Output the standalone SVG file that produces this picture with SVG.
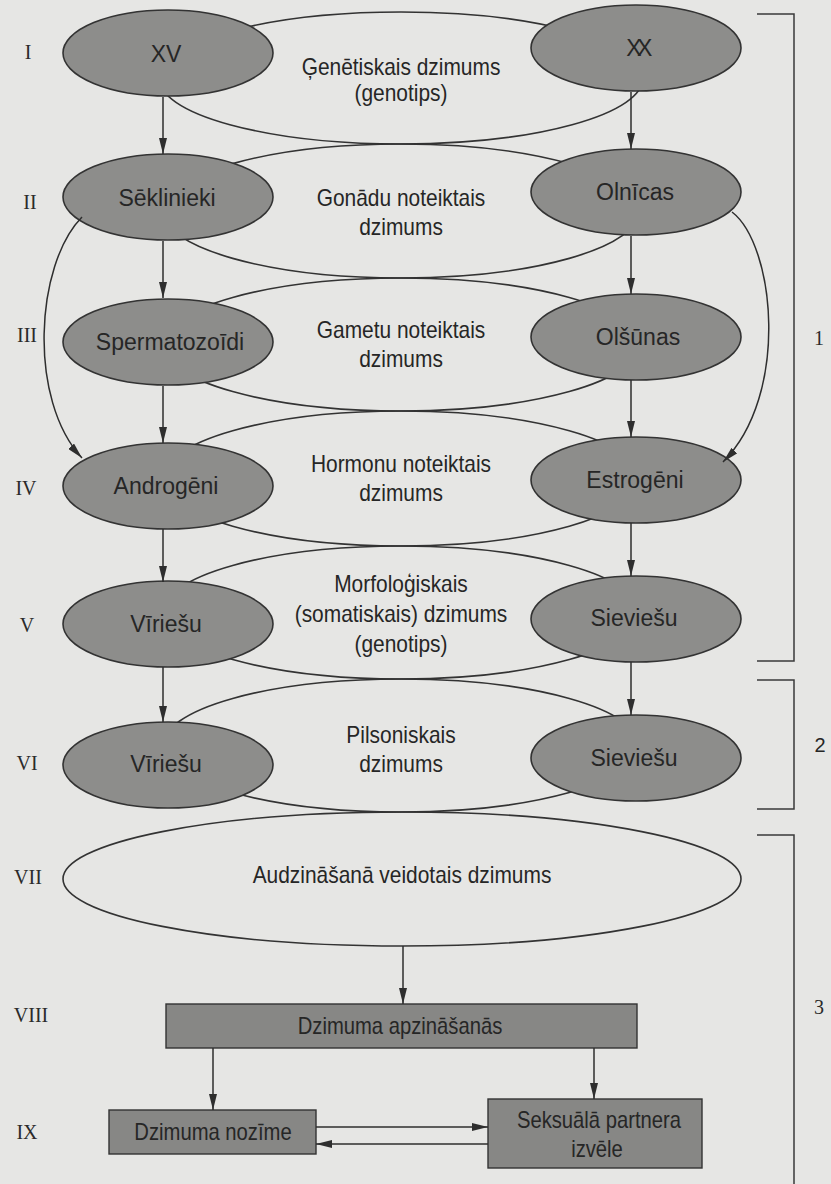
<svg xmlns="http://www.w3.org/2000/svg" width="831" height="1184" viewBox="0 0 831 1184">
<defs>
<marker id="ah" viewBox="0 0 16 8" refX="16" refY="4" markerWidth="16" markerHeight="8" markerUnits="userSpaceOnUse" orient="auto">
<path d="M0,0 L16,4 L0,8 z" fill="#2e2e2e"/>
</marker>
<style>
.bg{fill:#e6e6e4}
.lens{fill:none;stroke:#333;stroke-width:1.6}
.node{fill:#8d8d8b;stroke:#333;stroke-width:1.6}
.box{fill:#878785;stroke:#333;stroke-width:1.4}
.t{font-family:"Liberation Sans",Arial,sans-serif;fill:#262626;text-anchor:middle}
.n{font-size:24.5px}
.m{font-size:23px}
.b{font-size:23px}
.r{font-family:"Liberation Serif","Times New Roman",serif;font-size:20px;fill:#2a2a2a;text-anchor:middle}
.c{fill:none;stroke:#2e2e2e;stroke-width:1.5}
.br{fill:none;stroke:#3a3a3a;stroke-width:1.5}
</style>
</defs>
<rect class="bg" x="0" y="0" width="831" height="1184"/>

<!-- middle lenses (levels) -->
<g id="lens-I"><ellipse class="lens" cx="401" cy="78" rx="242" ry="66"/>
<text class="t m" transform="translate(401,75) scale(0.91,1)">Ģenētiskais dzimums</text>
<text class="t m" transform="translate(401,101) scale(0.91,1)">(genotips)</text></g>
<g id="lens-II"><ellipse class="lens" cx="401" cy="211" rx="238" ry="67"/>
<text class="t m" transform="translate(401,206) scale(0.91,1)">Gonādu noteiktais</text>
<text class="t m" transform="translate(401,235) scale(0.91,1)">dzimums</text></g>
<g id="lens-III"><ellipse class="lens" cx="401" cy="344.5" rx="238" ry="66.5"/>
<text class="t m" transform="translate(401,338) scale(0.91,1)">Gametu noteiktais</text>
<text class="t m" transform="translate(401,367) scale(0.91,1)">dzimums</text></g>
<g id="lens-IV"><ellipse class="lens" cx="401" cy="478.5" rx="238" ry="67.5"/>
<text class="t m" transform="translate(401,472) scale(0.91,1)">Hormonu noteiktais</text>
<text class="t m" transform="translate(401,501) scale(0.91,1)">dzimums</text></g>
<g id="lens-V"><ellipse class="lens" cx="401" cy="612.5" rx="238" ry="66.5"/>
<text class="t m" transform="translate(401,592) scale(0.91,1)">Morfoloģiskais</text>
<text class="t m" transform="translate(401,622) scale(0.91,1)">(somatiskais) dzimums</text>
<text class="t m" transform="translate(401,652) scale(0.91,1)">(genotips)</text></g>
<g id="lens-VI"><ellipse class="lens" cx="401" cy="745.5" rx="238" ry="66.5"/>
<text class="t m" transform="translate(401,743) scale(0.91,1)">Pilsoniskais</text>
<text class="t m" transform="translate(401,772) scale(0.91,1)">dzimums</text></g>
<g id="lens-VII"><ellipse class="lens" cx="402" cy="879" rx="339" ry="67"/>
<text class="t m" transform="translate(402,883) scale(0.91,1)">Audzināšanā veidotais dzimums</text></g>

<!-- left column -->
<g id="n-xv"><ellipse class="node" cx="168" cy="53" rx="105" ry="43"/><text class="t n" transform="translate(166,62) scale(0.94,1)">XV</text></g>
<g id="n-seklinieki"><ellipse class="node" cx="168" cy="197" rx="105" ry="43"/><text class="t n" transform="translate(167,206) scale(0.94,1)">Sēklinieki</text></g>
<g id="n-spermatozoidi"><ellipse class="node" cx="168" cy="342" rx="105" ry="43"/><text class="t n" transform="translate(170,350) scale(0.94,1)">Spermatozoīdi</text></g>
<g id="n-androgeni"><ellipse class="node" cx="168" cy="486" rx="105" ry="43"/><text class="t n" transform="translate(166,494) scale(0.94,1)">Androgēni</text></g>
<g id="n-viriesu-v"><ellipse class="node" cx="168" cy="624" rx="105" ry="43"/><text class="t n" transform="translate(166,632) scale(0.94,1)">Vīriešu</text></g>
<g id="n-viriesu-vi"><ellipse class="node" cx="168" cy="765" rx="105" ry="43"/><text class="t n" transform="translate(166,772) scale(0.94,1)">Vīriešu</text></g>

<!-- right column -->
<g id="n-xx"><ellipse class="node" cx="636" cy="48" rx="105" ry="43"/><text class="t n" transform="translate(637,56) scale(0.94,1)" letter-spacing="-5">XX</text></g>
<g id="n-olnicas"><ellipse class="node" cx="636" cy="192" rx="105" ry="43"/><text class="t n" transform="translate(635,200) scale(0.94,1)">Olnīcas</text></g>
<g id="n-olsunas"><ellipse class="node" cx="636" cy="337" rx="105" ry="43"/><text class="t n" transform="translate(638,345) scale(0.94,1)">Olšūnas</text></g>
<g id="n-estrogeni"><ellipse class="node" cx="636" cy="480" rx="105" ry="43"/><text class="t n" transform="translate(635,488) scale(0.94,1)">Estrogēni</text></g>
<g id="n-sieviesu-v"><ellipse class="node" cx="636" cy="619" rx="105" ry="43"/><text class="t n" transform="translate(634,626) scale(0.94,1)">Sieviešu</text></g>
<g id="n-sieviesu-vi"><ellipse class="node" cx="636" cy="758" rx="105" ry="43"/><text class="t n" transform="translate(634,766) scale(0.94,1)">Sieviešu</text></g>

<!-- boxes -->
<g id="n-apzinasanas"><rect class="box" x="166" y="1004" width="471" height="44"/><text class="t b" transform="translate(400,1034) scale(0.88,1)">Dzimuma apzināšanās</text></g>
<g id="n-nozime"><rect class="box" x="109" y="1110" width="207" height="44"/><text class="t b" transform="translate(213,1140) scale(0.88,1)">Dzimuma nozīme</text></g>
<g id="n-partnera"><rect class="box" x="488" y="1099" width="214" height="69"/><text class="t b" transform="translate(599,1128) scale(0.88,1)">Seksuālā partnera</text><text class="t b" transform="translate(597,1157) scale(0.88,1)">izvēle</text></g>

<!-- connectors -->
<g id="connectors">
<line class="c" x1="163" y1="97" x2="163" y2="154" marker-end="url(#ah)"/>
<line class="c" x1="163" y1="241" x2="163" y2="298" marker-end="url(#ah)"/>
<line class="c" x1="163" y1="386" x2="163" y2="443" marker-end="url(#ah)"/>
<line class="c" x1="163" y1="529" x2="163" y2="582" marker-end="url(#ah)"/>
<line class="c" x1="163" y1="667" x2="163" y2="722" marker-end="url(#ah)"/>
<line class="c" x1="631" y1="92" x2="631" y2="149" marker-end="url(#ah)"/>
<line class="c" x1="631" y1="236" x2="631" y2="294" marker-end="url(#ah)"/>
<line class="c" x1="631" y1="380" x2="631" y2="437" marker-end="url(#ah)"/>
<line class="c" x1="631" y1="523" x2="631" y2="576" marker-end="url(#ah)"/>
<line class="c" x1="631" y1="662" x2="631" y2="715" marker-end="url(#ah)"/>
<path class="c" d="M82,217 C35,265 28,400 82,458" marker-end="url(#ah)"/>
<path class="c" d="M732,212 C775,245 790,395 723,462" marker-end="url(#ah)"/>
<line class="c" x1="403" y1="946" x2="403" y2="1004" marker-end="url(#ah)"/>
<line class="c" x1="213" y1="1048" x2="213" y2="1110" marker-end="url(#ah)"/>
<line class="c" x1="594" y1="1048" x2="594" y2="1099" marker-end="url(#ah)"/>
<line class="c" x1="316" y1="1127" x2="488" y2="1127" marker-end="url(#ah)"/>
<line class="c" x1="488" y1="1144" x2="316" y2="1144" marker-end="url(#ah)"/>
</g>

<!-- level numerals -->
<g id="levels">
<text class="r" x="28" y="59">I</text>
<text class="r" x="30" y="209">II</text>
<text class="r" x="27" y="342">III</text>
<text class="r" x="26" y="495">IV</text>
<text class="r" x="27" y="632">V</text>
<text class="r" x="27" y="770">VI</text>
<text class="r" x="28" y="884">VII</text>
<text class="r" x="31" y="1022">VIII</text>
<text class="r" x="27" y="1139">IX</text>
</g>

<!-- brackets -->
<g id="brackets">
<path class="br" d="M757,14 H794 V661 H757"/>
<path class="br" d="M757,680 H794 V809 H757"/>
<path class="br" d="M757,835 H794 V1184"/>
<text class="r" x="819" y="345">1</text>
<text class="t" x="820" y="752" style="font-size:20px">2</text>
<text class="r" x="819" y="1014">3</text>
</g>
</svg>
